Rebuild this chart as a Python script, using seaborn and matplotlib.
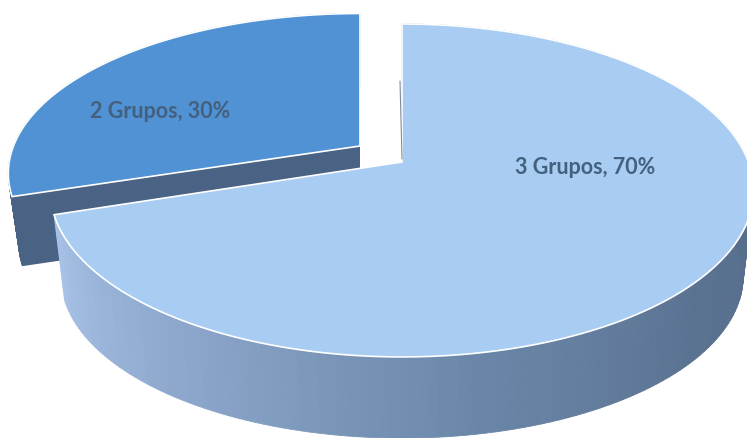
import numpy as np
import matplotlib.pyplot as plt
import seaborn as sns

# Values of the pie
labels = ['2 Grupos', '3 Grupos']
shares = [30, 70]

# Geometry of the tilted disc, in pixels
RADIUS = 350
FLAT = 161.6
TILT = 0.171
APEX = {'2 Grupos': (360, 147), '3 Grupos': (402, 163)}
DROP = {'2 Grupos': 71, '3 Grupos': 87}
STRETCH = {'2 Grupos': (0.99, 0.96), '3 Grupos': (0.99, 1.0)}
FACE = {'2 Grupos': '#5092d3', '3 Grupos': '#a9ccf3'}
SIDE = {'2 Grupos': ['#4a6385', '#4a6385'],
        '3 Grupos': ['#a8c2e8', '#8aa5c9', '#6a86a8', '#5a7291', '#566e8c']}
LABEL_POS = {'2 Grupos': (160, 112), '3 Grupos': (585, 168)}


def rim(theta, name, scale=1.0, drop=0):
    # project points of the unit circle with a simple perspective
    apex = APEX[name]
    sx, sy = STRETCH[name]
    w = 1 + TILT * np.sin(theta)
    x = apex[0] + sx * scale * RADIUS * np.cos(theta) / w
    y = apex[1] + drop - sy * scale * FLAT * np.sin(theta) / w
    return x, y


sns.set_theme(style='white')
plt.rcParams['font.family'] = ['Lato', 'DejaVu Sans']

fig = plt.figure(figsize=(7.47, 4.39), dpi=100)
ax = fig.add_axes([0, 0, 1, 1])
ax.set_xlim(0, 747)
ax.set_ylim(439, 0)
ax.axis('off')

# the slices run clockwise from 12 o'clock, small one goes backwards
for name, share in zip(labels, shares):
    sweep = np.deg2rad(share * 3.6)
    apex = APEX[name]
    drop = DROP[name]
    if name == '2 Grupos':
        start, end = np.pi / 2, np.pi / 2 + sweep
    else:
        start, end = np.pi / 2 - sweep, np.pi / 2

    # cut wall of the small slice
    if name == '2 Grupos':
        ex, ey = rim(end, name)
        lx, ly = rim(end, name, 0.97, drop)
        ax.fill([apex[0], ex, lx, apex[0]],
                [apex[1], ey, ly, apex[1] + drop],
                color=SIDE[name][0], lw=0, zorder=2)

    # outer wall as thin strips with a colour blend
    t = np.linspace(start, end, 181)
    pal = sns.blend_palette(SIDE[name], n_colors=len(t) - 1)
    if name == '3 Grupos':
        # blend only across the front part, back part is hidden anyway
        front = np.clip((t[:-1] - start) / (-start), 0, 1)
        idx = (front * (len(pal) - 1)).astype(int)
    else:
        idx = np.arange(len(pal))
    z = 3 if name == '3 Grupos' else 2
    for i in range(len(t) - 1):
        ux, uy = rim(t[i:i + 2], name)
        lx, ly = rim(t[i:i + 2], name, 0.97, drop)
        ax.fill(np.r_[ux, lx[::-1]], np.r_[uy, ly[::-1]],
                color=pal[idx[i]], ec=pal[idx[i]], lw=0.6, zorder=z)

    # top face with white rim
    tx, ty = rim(t, name)
    ax.fill(np.r_[apex[0], tx], np.r_[apex[1], ty], fc=FACE[name],
            ec='white', lw=1.2, zorder=z + 1, joinstyle='miter')

    ax.text(*LABEL_POS[name], f'{name}, {share}%', ha='center', va='center',
            fontsize=15.5, fontweight='bold', color='#44607f', zorder=6)

# thin shadow on the cut edge of the big slice
ax.plot([400, 402], [82, 160], color='#7f8c9c', lw=0.8, zorder=5)

fig.savefig('out.png', dpi=100)
